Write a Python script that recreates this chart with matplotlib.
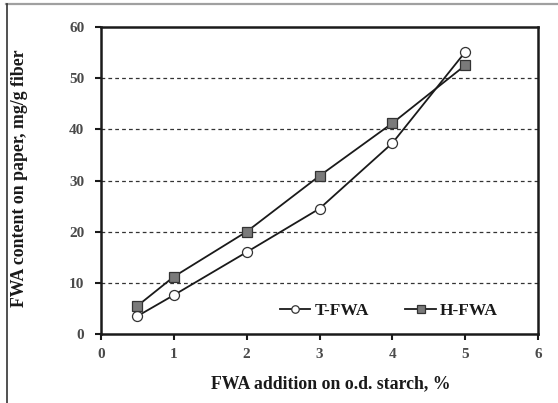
import matplotlib
matplotlib.use("Agg")
import matplotlib.pyplot as plt
from matplotlib.lines import Line2D

# FWA addition (% on o.d. starch) and FWA content on paper (mg/g fiber)
addition = [0.5, 1, 2, 3, 4, 5]
t_fwa = [3.5, 7.6, 16.0, 24.5, 37.3, 55.1]
h_fwa = [5.5, 11.2, 20.0, 30.9, 41.2, 52.5]
x_ticks = [0, 1, 2, 3, 4, 5, 6]
y_ticks = [0, 10, 20, 30, 40, 50, 60]

plt.rcParams['font.family'] = ['Liberation Serif', 'DejaVu Serif']
plt.rcParams['font.weight'] = 'bold'

W, H = 558, 403
fig = plt.figure(figsize=(W / 100, H / 100), dpi=100)
fig.patch.set_facecolor('white')

# thin frame lines along the top and left of the figure
fig.add_artist(Line2D([6 / W, 1], [1 - 3.5 / H, 1 - 3.5 / H], color='#a0a0a0', lw=1.6,
                      transform=fig.transFigure))
fig.add_artist(Line2D([7 / W, 7 / W], [0, 1 - 3.5 / H], color='#333333', lw=1.2,
                      transform=fig.transFigure))

left, right, top, bottom = 101, 538, 27, 334
ax = fig.add_axes([left / W, 1 - bottom / H, (right - left) / W, (bottom - top) / H])

ax.plot(addition, t_fwa, color='#1a1a1a', lw=1.3, marker='o', ms=7.2,
        mfc='white', mec='#333333', mew=0.9, label='T-FWA', zorder=3)
ax.plot(addition, h_fwa, color='#1a1a1a', lw=1.3, marker='s', ms=6.8,
        mfc='#7a7a7a', mec='#333333', mew=0.9, label='H-FWA', zorder=3)

ax.set_xlim(0, 6)
ax.set_ylim(0, 60)
ax.set_xticks(x_ticks)
ax.set_yticks(y_ticks)
ax.tick_params(direction='out', length=4, width=1.5, labelsize=11,
               labelcolor='#4a4a4a', color='#1a1a1a')
ax.tick_params(axis='y', pad=8)
ax.tick_params(axis='x', pad=6)
for lbl in ax.get_xticklabels() + ax.get_yticklabels():
    lbl.set_fontweight('bold')

for sp in ax.spines.values():
    sp.set_linewidth(1.8)
    sp.set_color('#1a1a1a')

for y in y_ticks[1:-1]:
    ax.axhline(y, color='#333333', lw=0.9, ls=(0, (3, 2.5)), zorder=1)

leg = ax.legend(loc='center right', bbox_to_anchor=((498 - left) / (right - left),
                                                    (bottom - 311) / (bottom - top)),
                ncol=2, frameon=False, fontsize=12.5, handlelength=1.75,
                columnspacing=2.1, handletextpad=0.25, borderpad=0, borderaxespad=0,
                markerscale=0.75)
for t in leg.get_texts():
    t.set_fontweight('bold')
    t.set_color('#1a1a1a')

fig.text(20 / W, 1 - 178 / H, 'FWA content on paper, mg/g fiber', rotation=90,
         ha='center', va='center', fontsize=12.8, fontweight='bold', color='#1a1a1a')
fig.text(331 / W, 1 - 384 / H, 'FWA addition on o.d. starch, %',
         ha='center', va='center', fontsize=12.8, fontweight='bold', color='#1a1a1a')

fig.savefig('out.png', dpi=100, facecolor='white')
